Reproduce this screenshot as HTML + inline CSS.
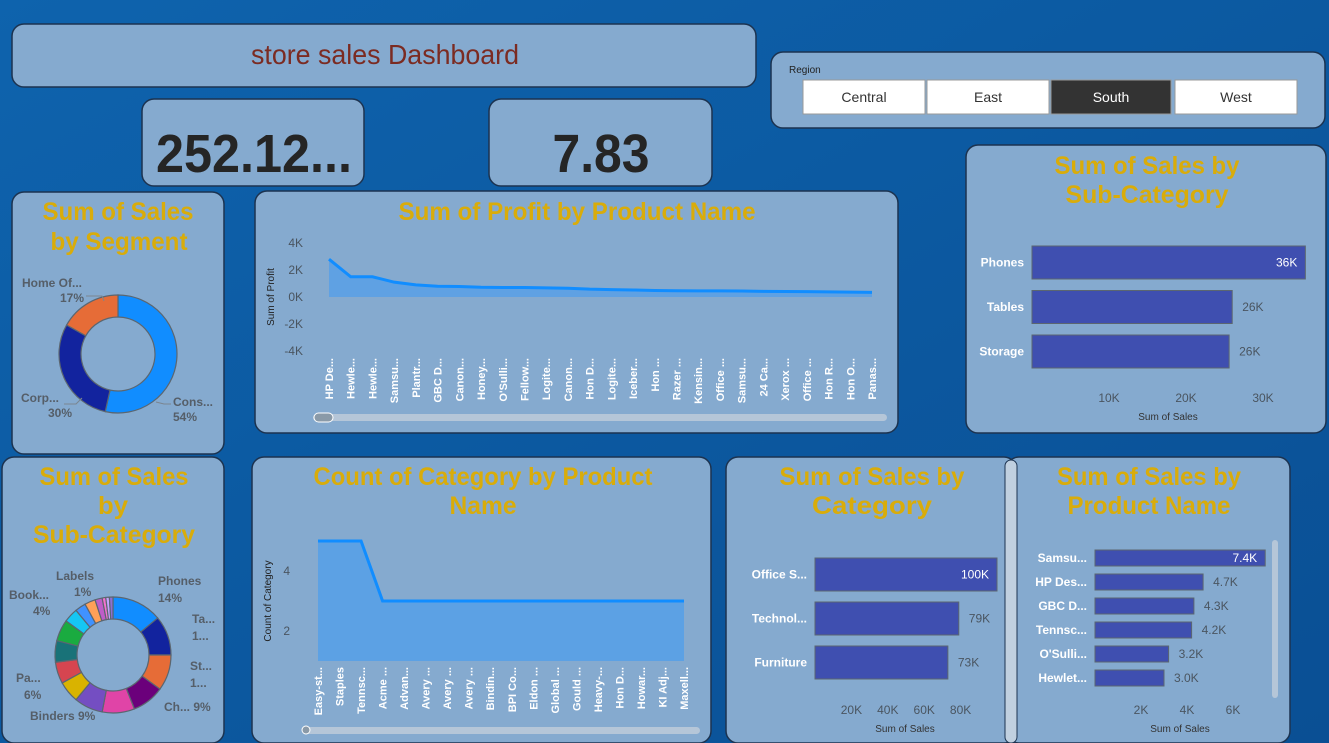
<!DOCTYPE html>
<html><head><meta charset="utf-8"><style>
html,body{margin:0;padding:0;width:1329px;height:743px;overflow:hidden;}
svg{display:block;font-family:"Liberation Sans",sans-serif;}
.ttl{font-family:"Liberation Sans",sans-serif;font-weight:bold;fill:#d9ac0a;font-size:25px;text-anchor:middle;}
.panel{fill:#85aacf;stroke:#1c3350;stroke-width:1.5;}
.tick{fill:#4a5560;font-size:12px;}
.xl{fill:#fff;font-size:11px;font-weight:bold;}
.cat{fill:#fff;font-size:12px;font-weight:bold;}
.lbl{fill:#555e68;font-size:12px;font-weight:bold;}
</style></head><body>
<svg id="dash" width="1329" height="743" viewBox="0 0 1329 743">
<defs><linearGradient id="bg" x1="0" y1="0" x2="1" y2="1"><stop offset="0" stop-color="#0e63ad"/><stop offset="1" stop-color="#0a4f94"/></linearGradient></defs>
<rect width="1329" height="743" fill="url(#bg)"/>
<g>
<rect class="panel" x="12" y="24" width="744" height="63" rx="12"/>
<text x="385" y="64" text-anchor="middle" font-size="28" fill="#7b2b22" textLength="268" lengthAdjust="spacingAndGlyphs">store sales Dashboard</text>
</g>
<g>
<rect class="panel" x="771" y="52" width="554" height="76" rx="12"/>
<text x="789" y="73" font-size="10" fill="#222">Region</text>
<g><rect x="803" y="80" width="122" height="34" fill="#fff" stroke="#999"/><text x="864" y="102" text-anchor="middle" font-size="14" fill="#333">Central</text></g>
<g><rect x="927" y="80" width="122" height="34" fill="#fff" stroke="#999"/><text x="988" y="102" text-anchor="middle" font-size="14" fill="#333">East</text></g>
<g><rect x="1051" y="80" width="120" height="34" fill="#333" stroke="#999"/><text x="1111" y="102" text-anchor="middle" font-size="14" fill="#fff">South</text></g>
<g><rect x="1175" y="80" width="122" height="34" fill="#fff" stroke="#999"/><text x="1236" y="102" text-anchor="middle" font-size="14" fill="#333">West</text></g>
</g>
<g>
<rect class="panel" x="142" y="99" width="222" height="87" rx="12"/>
<text x="254" y="172" text-anchor="middle" font-size="54" font-weight="bold" fill="#252525" textLength="196" lengthAdjust="spacingAndGlyphs">252.12...</text>
</g>
<g>
<rect class="panel" x="489" y="99" width="223" height="87" rx="12"/>
<text x="601" y="172" text-anchor="middle" font-size="54" font-weight="bold" fill="#252525" textLength="97" lengthAdjust="spacingAndGlyphs">7.83</text>
</g>
<g>
<rect class="panel" x="12" y="192" width="212" height="262" rx="12"/>
<text class="ttl" x="118" y="220" textLength="151" lengthAdjust="spacingAndGlyphs">Sum of Sales</text><text class="ttl" x="119" y="250" textLength="137" lengthAdjust="spacingAndGlyphs">by Segment</text>
<g id="segDonut"></g>
</g>
<g>
<rect class="panel" x="255" y="191" width="643" height="242" rx="12"/>
<text class="ttl" x="577" y="220" textLength="357" lengthAdjust="spacingAndGlyphs">Sum of Profit by Product Name</text>
<text transform="translate(274,297) rotate(-90)" text-anchor="middle" font-size="10" fill="#222">Sum of Profit</text>
<g id="profitChart"></g>
<rect x="313" y="414" width="574" height="7" rx="3.5" fill="#b5c6d8"/>
<rect x="314" y="413" width="19" height="9" rx="4.5" fill="#8a9aa8" stroke="#fff"/>
</g>
<g>
<rect class="panel" x="966" y="145" width="360" height="288" rx="12"/>
<text class="ttl" x="1147" y="174" textLength="185" lengthAdjust="spacingAndGlyphs">Sum of Sales by</text><text class="ttl" x="1147" y="203" textLength="163" lengthAdjust="spacingAndGlyphs">Sub-Category</text>
<g id="subBar"></g>
<text x="1168" y="420" text-anchor="middle" font-size="10" fill="#333">Sum of Sales</text>
</g>
<g>
<rect class="panel" x="2" y="457" width="222" height="286" rx="12"/>
<text class="ttl" x="114" y="485" textLength="149" lengthAdjust="spacingAndGlyphs">Sum of Sales</text><text class="ttl" x="113" y="514" textLength="30" lengthAdjust="spacingAndGlyphs">by</text><text class="ttl" x="114" y="543" textLength="162" lengthAdjust="spacingAndGlyphs">Sub-Category</text>
<g id="subDonut"></g>
</g>
<g>
<rect class="panel" x="252" y="457" width="459" height="286" rx="12"/>
<text class="ttl" x="483" y="485" textLength="339" lengthAdjust="spacingAndGlyphs">Count of Category by Product</text><text class="ttl" x="483" y="514" textLength="67" lengthAdjust="spacingAndGlyphs">Name</text>
<text transform="translate(271,601) rotate(-90)" text-anchor="middle" font-size="10" fill="#222">Count of Category</text>
<g id="countChart"></g>
<rect x="302" y="727" width="398" height="7" rx="3.5" fill="#b5c6d8"/>
<circle cx="306" cy="730" r="4" fill="#8a9aa8" stroke="#fff"/>
</g>
<g>
<rect class="panel" x="726" y="457" width="290" height="286" rx="12"/>
<text class="ttl" x="872" y="485" textLength="185" lengthAdjust="spacingAndGlyphs">Sum of Sales by</text><text class="ttl" x="872" y="514" textLength="120" lengthAdjust="spacingAndGlyphs">Category</text>
<g id="catBar"></g>
<text x="905" y="732" text-anchor="middle" font-size="10" fill="#333">Sum of Sales</text>
</g>
<g>
<rect class="panel" x="1007" y="457" width="283" height="286" rx="12"/>
<rect x="1005" y="460" width="12" height="283" rx="6" fill="#c0d0e0" stroke="#1c3350"/>
<text class="ttl" x="1149" y="485" textLength="184" lengthAdjust="spacingAndGlyphs">Sum of Sales by</text><text class="ttl" x="1149" y="514" textLength="163" lengthAdjust="spacingAndGlyphs">Product Name</text>
<g id="prodBar"></g>
<rect x="1272" y="540" width="6" height="158" rx="3" fill="#b5c6d8"/>
<text x="1180" y="732" text-anchor="middle" font-size="10" fill="#333">Sum of Sales</text>
</g>
</svg>
<script>
const NS='http://www.w3.org/2000/svg';
function mk(parent,tag,attrs,txt){const e=document.createElementNS(NS,tag);for(const k in attrs)e.setAttribute(k,attrs[k]);if(txt!==undefined)e.textContent=txt;parent.appendChild(e);return e;}

// ---- data ----
const segNames=['Cons...','Corp...','Home Of...'];
const segValues=[54,30,17];
const segColors=['#118dff','#12239e','#e66c37'];

const profitProducts=['HP De...','Hewle...','Hewle...','Samsu...','Plantr...','GBC D...','Canon...','Honey...',"O'Sulli...",'Fellow...','Logite...','Canon...','Hon D...','Logite...','Iceber...','Hon ...','Razer ...','Kensin...','Office ...','Samsu...','24 Ca...','Xerox ...','Office ...','Hon R...','Hon O...','Panas...'];
const profitValues=[2.8,1.5,1.5,1.1,0.9,0.8,0.78,0.72,0.7,0.7,0.68,0.65,0.58,0.55,0.52,0.48,0.46,0.45,0.45,0.44,0.42,0.41,0.4,0.38,0.36,0.34];
const profitTicks=[4,2,0,-2,-4];

const subCats=['Phones','Tables','Storage'];
const subSales=[35.5,26,25.6];
const subTicks=[10,20,30];

const subDonutNames=['Phones','Tables','Storage','Chairs','Binders','Appliances','Paper','Furnishings','Accessories','Art','Bookcases','Envelopes','Machines','Supplies','Fasteners','Copiers','Labels'];
const subDonutValues=[14,11,10,9,9,8,6,6,6,6,4,3,3,2,1,1,1];
const subDonutColors=['#118dff','#12239e','#e66c37','#6b007b','#e044a7','#744ec2','#d9b300','#d64550','#197278','#1aab40','#15c6f4','#4092ff','#ffa058','#be5dc9','#f472d0','#c5a3ff','#8d6fd1'];

const countProducts=['Easy-st...','Staples','Tennsc...','Acme ...','Advan...','Avery ...','Avery ...','Avery ...','Bindin...','BPI Co...','Eldon ...','Global ...','Gould ...','Heavy-...','Hon D...','Howar...','KI Adj...','Maxell...'];
const countValues=[5,5,5,3,3,3,3,3,3,3,3,3,3,3,3,3,3,3];
const countTicks=[4,2];

const catNames=['Office S...','Technol...','Furniture'];
const catSales=[100,79,73];
const catLabels=['100K','79K','73K'];
const catTicks=[20,40,60,80];

const prodNames=['Samsu...','HP Des...','GBC D...','Tennsc...',"O'Sulli...",'Hewlet...'];
const prodSales=[7.4,4.7,4.3,4.2,3.2,3.0];
const prodTicks=[2,4,6];

// ---- donut helper ----
function donut(g,cx,cy,R,r,vals,cols,nm){
  const tot=vals.reduce((a,b)=>a+b,0);let a0=-Math.PI/2;
  vals.forEach((v,i)=>{const a1=a0+v/tot*2*Math.PI;const lg=(a1-a0)>Math.PI?1:0;
    const p=(rr,a)=>[cx+rr*Math.cos(a),cy+rr*Math.sin(a)];
    const [x0,y0]=p(R,a0),[x1,y1]=p(R,a1),[x2,y2]=p(r,a1),[x3,y3]=p(r,a0);
    const path=mk(g,'path',{d:`M${x0},${y0}A${R},${R} 0 ${lg} 1 ${x1},${y1}L${x2},${y2}A${r},${r} 0 ${lg} 0 ${x3},${y3}Z`,fill:cols[i],stroke:'#5b6670','stroke-width':1.2});
    
    
    a0=a1;});
}
// segment donut
const segG=document.getElementById('segDonut');
donut(segG,118,354,59,37,segValues,segColors,'segment');
[['Home Of...','17%',52,287,'end'],['Corp...','30%',40,402,'end'],['Cons...','54%',173,406,'start']].forEach(l=>{
 const t=mk(segG,'text',{x:l[2],y:l[3],class:'lbl','text-anchor':l[4]==='end'?'middle':'start'},l[0]);
 
 mk(segG,'text',{x:l[4]==='end'?l[2]+20:l[2]+12,y:l[3]+15,class:'lbl','text-anchor':'middle'},l[1]);
});
mk(segG,'polyline',{points:'86,296 102,296 104,301',fill:'none',stroke:'#7a8590'});
mk(segG,'polyline',{points:'64,404 76,404 82,398',fill:'none',stroke:'#7a8590'});
mk(segG,'polyline',{points:'156,402 164,404 171,404',fill:'none',stroke:'#7a8590'});

// sub-category donut
const sdG=document.getElementById('subDonut');
donut(sdG,113,655,58,36,subDonutValues,subDonutColors,'subcategory');
[['Phones',158,585,'start'],['14%',158,602,'start'],['Ta...',192,623,'start'],['1...',192,640,'start'],['St...',190,670,'start'],['1...',190,687,'start'],['Ch... 9%',164,711,'start'],['Binders 9%',30,720,'start'],['Pa...',16,682,'start'],['6%',24,699,'start'],['Book...',9,599,'start'],['4%',33,615,'start'],['Labels',56,580,'start'],['1%',74,596,'start']].forEach(l=>{
 const t=mk(sdG,'text',{x:l[1],y:l[2],class:'lbl'},l[0]);
 
});

// ---- profit area ----
const pG=document.getElementById('profitChart');
const pX=i=>329+i*(872-329)/(profitValues.length-1);
const pY=v=>297-v*13.5;
profitTicks.forEach(t=>{const e=mk(pG,'text',{x:303,y:pY(t)+4,class:'tick','text-anchor':'end'},t+'K');});
let d='M'+pX(0)+','+pY(0);profitValues.forEach((v,i)=>d+='L'+pX(i)+','+pY(v));d+='L'+pX(profitValues.length-1)+','+pY(0)+'Z';
const pa=mk(pG,'path',{d:d,fill:'#58a0e6','fill-opacity':0.85});
const pl=mk(pG,'polyline',{points:profitValues.map((v,i)=>pX(i)+','+pY(v)).join(' '),fill:'none',stroke:'#118dff','stroke-width':3});

profitProducts.forEach((n,i)=>{const e=mk(pG,'text',{transform:`translate(${pX(i)+4},358) rotate(-90)`,class:'xl','text-anchor':'end'},n);});

// ---- count area ----
const cG=document.getElementById('countChart');
const cX=i=>318+i*(684-318)/(countValues.length-1);
const cY=v=>691-30*v;
countTicks.forEach(t=>{const e=mk(cG,'text',{x:290,y:cY(t)+4,class:'tick','text-anchor':'end'},t);});
let cd='M'+cX(0)+','+cY(1);countValues.forEach((v,i)=>cd+='L'+cX(i)+','+cY(v));cd+='L'+cX(countValues.length-1)+','+cY(1)+'Z';
const ca=mk(cG,'path',{d:cd,fill:'#58a0e6','fill-opacity':0.9});
const cl=mk(cG,'polyline',{points:countValues.map((v,i)=>cX(i)+','+cY(v)).join(' '),fill:'none',stroke:'#118dff','stroke-width':3});

countProducts.forEach((n,i)=>{const x=318+i*(684-318)/17;const e=mk(cG,'text',{transform:`translate(${x+4},667) rotate(-90)`,class:'xl','text-anchor':'end'},n);});

// ---- horizontal bars ----
function hbar(id,names,vals,labels,ticks,x0,scale,y0,h,gap,tickY,tickFmt,nm,inside){
 const g=document.getElementById(id);
 vals.forEach((v,i)=>{const y=y0+i*gap;const w=v*scale;
  const r=mk(g,'rect',{x:x0,y:y,width:w,height:h,fill:'#3f4fb0',stroke:'#5b6670','stroke-width':1});
  
  const c=mk(g,'text',{x:x0-8,y:y+h/2+4,class:'cat','text-anchor':'end'},names[i]);
  const ins=i===0&&inside;
  const t=mk(g,'text',{x:ins?x0+w-8:x0+w+10,y:y+h/2+4,'font-size':12,fill:ins?'#fff':'#4a5560','text-anchor':ins?'end':'start'},labels[i]);
  
 });
 ticks.forEach(t=>{const e=mk(g,'text',{x:x0+t*scale,y:tickY,class:'tick','text-anchor':'middle'},tickFmt(t));});
}
hbar('subBar',subCats,subSales,subSales.map(v=>Math.round(v)+'K'),subTicks,1032,7.7,246,33,44.5,402,t=>t+'K','subcategory',true);
hbar('catBar',catNames,catSales,catLabels,catTicks,815,1.82,558,33,44,714,t=>t+'K','category',true);
hbar('prodBar',prodNames,prodSales,prodSales.map(v=>v.toFixed(1)+'K'),prodTicks,1095,23,550,16,24,714,t=>t+'K','product',true);
</script>
</body></html>
